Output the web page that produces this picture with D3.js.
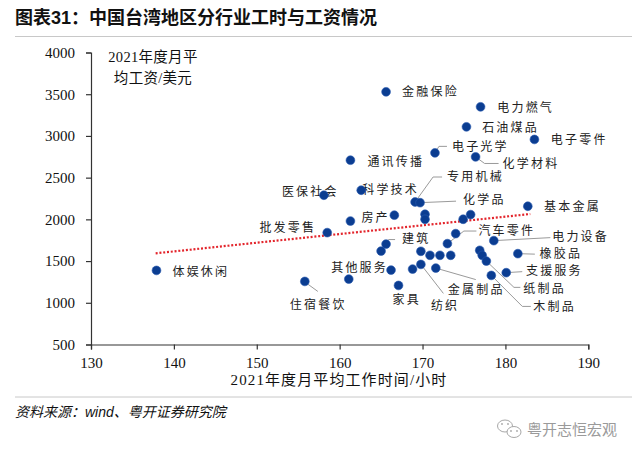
<!DOCTYPE html>
<html><head><meta charset="utf-8">
<script src="https://cdn.jsdelivr.net/npm/d3@7"></script>
<style>
body{margin:0;background:#fff;}
svg{display:block;}
</style></head><body>
<svg id="chart" width="640" height="459"></svg>
<script>
const industries = ["体娱休闲","住宿餐饮","批发零售","医保社会","","房产","通讯传播","科学技术","金融保险","","建筑","其他服务","","家具","","专用机械","化学品","纺织","","","","","电子光学","金属制品","","汽车零件","","","","石油煤品","","化学材料","","电力燃气","","纸制品","木制品","电力设备","支援服务","橡胶品","基本金属","电子零件"];
const hours = [137.9,155.8,158.5,158.1,161.1,161.3,161.3,162.6,165.6,165.0,165.6,166.2,166.6,167.1,168.8,169.1,169.7,169.8,169.8,170.3,170.3,170.9,171.5,171.6,172.1,173.0,173.4,174.0,174.9,175.3,175.8,176.4,176.9,177.0,177.2,177.7,178.3,178.6,180.1,181.5,182.7,183.5];
const wages = [1388,1256,1841,2289,1284,1980,2709,2349,3529,1620,1704,1392,2050,1208,1404,2208,2200,1460,1617,2061,2001,1569,2797,1416,1569,1709,1569,1829,2001,3109,2057,2749,1629,3349,1569,1500,1328,1745,1361,1589,2157,2958];
const trendHours = [137.8, 183.0];
const trendWages = [1593, 2064];
const xTicks = [130,140,150,160,170,180,190];
const yTicks = [500,1000,1500,2000,2500,3000,3500,4000];
const titleText = "图表31：中国台湾地区分行业工时与工资情况";
const xTitle = "2021年度月平均工作时间/小时";
const yTitleLines = ["2021年度月平","均工资/美元"];
const sourceText = "资料来源：wind、粤开证券研究院";
const watermarkText = "粤开志恒宏观";

// label layout (pixel offsets relative to each dot)
const labelLayout = {
  "体娱休闲":{dx:16,dy:1},
  "住宿餐饮":{dx:-15,dy:23,leader:[[2,2],[13,10]]},
  "批发零售":{dx:-11,dy:-5,anchor:"end"},
  "医保社会":{dx:-42,dy:-4},
  "房产":{dx:11,dy:-3},
  "通讯传播":{dx:17,dy:1},
  "科学技术":{dx:1,dy:-1},
  "金融保险":{dx:16,dy:0},
  "建筑":{dx:16,dy:-5,leader:[[0,0],[2.5,-4.5],[9,-4.5]]},
  "其他服务":{dx:-3,dy:-2,anchor:"end"},
  "家具":{dx:-6,dy:14},
  "专用机械":{dx:32,dy:-25,leader:[[0,0],[18,-25],[27,-25]]},
  "化学品":{dx:43,dy:-3,leader:[[0,0],[36,-1.5]]},
  "纺织":{dx:10,dy:41,leader:[[0,0],[22.5,29]]},
  "电子光学":{dx:17,dy:-6.5,leader:[[0,0],[4,-6.5],[12,-6.5]]},
  "金属制品":{dx:12,dy:21.5,leader:[[0,0],[40,11.5]]},
  "汽车零件":{dx:31,dy:-12.6,leader:[[0,0],[16.5,-12.6],[29,-12.6]]},
  "石油煤品":{dx:15.7,dy:1},
  "化学材料":{dx:27,dy:6.6,leader:[[0,0],[9,6.6],[23,6.6]]},
  "电力燃气":{dx:16.7,dy:0.6},
  "纸制品":{dx:37,dy:27.3,leader:[[0,0],[27.6,26.3],[34,26.3]]},
  "木制品":{dx:42,dy:31,leader:[[0,0],[31,31],[39.5,31]]},
  "电力设备":{dx:58.4,dy:-3.8,leader:[[0,0],[56.5,-3]]},
  "支援服务":{dx:19.7,dy:-1.6,leader:[[0,0],[16,-1]]},
  "橡胶品":{dx:21.7,dy:0.5,leader:[[0,0],[17,0.5]]},
  "基本金属":{dx:16.3,dy:0.7},
  "电子零件":{dx:16.4,dy:0.7}
};

const svg = d3.select("#chart");
const serif = "'Liberation Serif','Noto Sans CJK SC',serif";
const cjk = "'Noto Sans CJK SC','Liberation Sans',sans-serif";

// title
svg.append("text").attr("x",15).attr("y",24)
  .attr("font-family","'Liberation Sans','Noto Sans CJK SC',sans-serif")
  .attr("font-weight","bold").attr("font-size",18).attr("fill","#111").text(titleText);
svg.append("line").attr("x1",15).attr("x2",632).attr("y1",36.5).attr("y2",36.5)
  .attr("stroke","#c8c8c8").attr("stroke-width",1);

const x = d3.scaleLinear().domain([130,190]).range([91,588.3]);
const y = d3.scaleLinear().domain([500,4000]).range([344.5,52.5]);

// axes
const yAxis = svg.append("g").attr("transform","translate(91,0)")
  .call(d3.axisLeft(y).tickValues(yTicks).tickSize(5).tickPadding(11).tickFormat(d3.format("d")));
const xAxis = svg.append("g").attr("transform","translate(0,344.5)")
  .call(d3.axisBottom(x).tickValues(xTicks).tickSize(5).tickPadding(8).tickFormat(d3.format("d")));
[yAxis,xAxis].forEach(g=>{
  g.select(".domain").attr("stroke","#333").attr("stroke-width",1.2);
  g.selectAll(".tick line").attr("stroke","#333").attr("stroke-width",1.2);
  g.selectAll(".tick text").attr("font-family",serif).attr("font-size",15).attr("fill","#111");
});

// axis titles
svg.append("text").attr("x",339).attr("y",380).attr("dy","0.35em")
  .attr("text-anchor","middle").attr("font-family",serif).attr("font-size",15)
  .attr("letter-spacing",1.1).attr("fill","#111").text(xTitle);
yTitleLines.forEach((t,i)=>{
  svg.append("text").attr("x",153).attr("y",57+i*21).attr("dy","0.35em")
    .attr("text-anchor","middle").attr("font-family",serif).attr("font-size",14.5)
    .attr("letter-spacing",0.3).attr("fill","#111").text(t);
});

// trend line
svg.append("line")
  .attr("x1",x(trendHours[0])).attr("y1",y(trendWages[0]))
  .attr("x2",x(trendHours[1])).attr("y2",y(trendWages[1]))
  .attr("stroke","#e3242b").attr("stroke-width",2.2).attr("stroke-dasharray","2,1.8");

const data = industries.map((n,i)=>({name:n,h:hours[i],w:wages[i]}));
const labelled = data.filter(d=>d.name && labelLayout[d.name]);

// leader lines
svg.append("g").selectAll("polyline")
  .data(labelled.filter(d=>labelLayout[d.name].leader))
  .join("polyline")
  .attr("points",d=>labelLayout[d.name].leader.map(p=>[x(d.h)+p[0],y(d.w)+p[1]].join(",")).join(" "))
  .attr("fill","none").attr("stroke","#9a9a9a").attr("stroke-width",1);

// labels
svg.append("g").selectAll("text")
  .data(labelled).join("text")
  .attr("x",d=>x(d.h)+labelLayout[d.name].dx)
  .attr("y",d=>y(d.w)+labelLayout[d.name].dy)
  .attr("dy","0.36em")
  .attr("text-anchor",d=>labelLayout[d.name].anchor||"start")
  .attr("font-family",cjk).attr("font-size",12).attr("letter-spacing",2.2)
  .attr("fill","#222").text(d=>d.name);

// dots
svg.append("g").selectAll("circle")
  .data(data).join("circle")
  .attr("cx",d=>x(d.h)).attr("cy",d=>y(d.w)).attr("r",4.4)
  .attr("fill","#0b3d91").attr("stroke","#2a5bb0").attr("stroke-width",0.6);

// footer
svg.append("line").attr("x1",15).attr("x2",632).attr("y1",397).attr("y2",397)
  .attr("stroke","#c8c8c8").attr("stroke-width",1);
svg.append("text").attr("x",15).attr("y",412).attr("dy","0.36em")
  .attr("font-family","'Liberation Sans','Noto Sans CJK SC',sans-serif")
  .attr("font-style","italic").attr("font-size",14).attr("fill","#111").text(sourceText);

// watermark
const wm = svg.append("g").attr("fill","none").attr("stroke","#a8a8a8").attr("stroke-width",1);
wm.append("ellipse").attr("cx",505).attr("cy",426).attr("rx",7.5).attr("ry",6);
wm.append("ellipse").attr("cx",514).attr("cy",432).attr("rx",7).attr("ry",5.5).attr("fill","#fff");
svg.append("circle").attr("cx",511).attr("cy",431).attr("r",0.9).attr("fill","#a8a8a8");
svg.append("circle").attr("cx",517).attr("cy",431).attr("r",0.9).attr("fill","#a8a8a8");
svg.append("circle").attr("cx",502).attr("cy",424).attr("r",0.9).attr("fill","#a8a8a8");
svg.append("circle").attr("cx",508).attr("cy",424).attr("r",0.9).attr("fill","#a8a8a8");
svg.append("text").attr("x",527).attr("y",430).attr("dy","0.36em")
  .attr("font-family",cjk).attr("font-size",15).attr("fill","#9a9a9a").text(watermarkText);
</script>
</body></html>
